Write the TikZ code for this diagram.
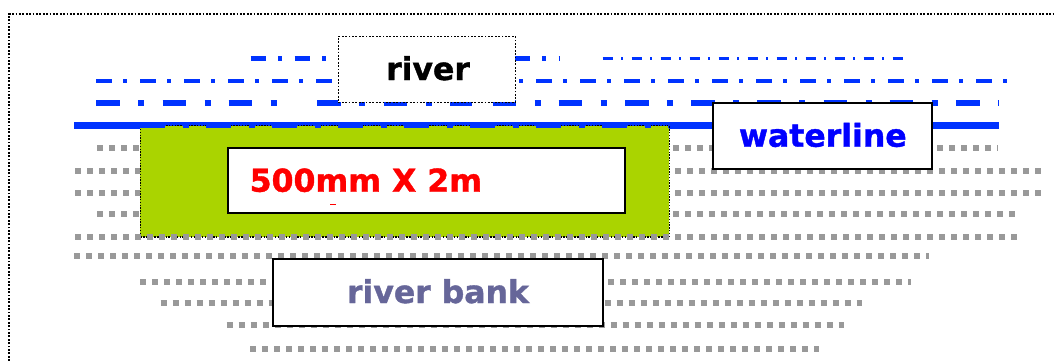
\documentclass[tikz,border=0pt]{standalone}
\usepackage{fontspec}
\setmainfont{DejaVu Sans}
\newfontfamily\heavyfont[BoldFeatures={FakeBold=1.2}]{DejaVu Sans}
\definecolor{lineblue}{RGB}{0,51,255}
\definecolor{rowgray}{RGB}{153,153,153}
\definecolor{pipegreen}{RGB}{170,212,0}
\definecolor{bankblue}{RGB}{102,102,153}
\definecolor{wblue}{RGB}{0,0,255}
\tikzset{
  framedots/.style={draw=black, line width=1.6pt, dash pattern=on 1.8pt off 1.6pt},
  grayrow/.style={draw=rowgray, line width=6pt, dash pattern=on 6pt off 6pt},
  solidbox/.style={draw=black, line width=2pt, fill=white, inner sep=0pt, rectangle},
  dotbox/.style={draw=black, line width=1.6pt, dash pattern=on 1.8pt off 1.6pt, fill=white, inner sep=0pt, rectangle},
  greenbox/.style={draw=black, line width=1.1pt, dash pattern=on 1.4pt off 1.4pt, fill=pipegreen, inner sep=0pt, rectangle},
  lbl/.style={font=\heavyfont\fontsize{31.5}{36}\selectfont\bfseries, inner sep=0pt},
}
\begin{document}
\begin{tikzpicture}[x=1pt,y=-1pt]
\useasboundingbox (0,0) rectangle (1055,360);
% outer dotted frame
\draw[framedots] (9,361) -- (9,14) -- (1056,14);
% blue dash-dot lines
\draw[lineblue, line width=4.5pt, dash pattern=on 15.5pt off 12pt on 4pt off 12.5pt] (250.7,58.3) -- (559,58.3);
\draw[lineblue, line width=2.7pt, dash pattern=on 10.3pt off 8pt on 2.2pt off 8.5pt] (602.7,58.3) -- (906.6,58.3);
\draw[lineblue, line width=4.3pt, dash pattern=on 16pt off 11pt on 4pt off 13pt] (96.3,80.7) -- (1008.5,80.7);
\draw[lineblue, line width=6.3pt, dash pattern=on 23.7pt off 18.3pt on 6pt off 18.2pt] (96.3,102.7) -- (277.2,102.7);
\draw[lineblue, line width=6.3pt, dash pattern=on 23.7pt off 18.3pt on 6pt off 18.2pt] (317.3,102.7) -- (472,102.7);
\draw[lineblue, line width=6.3pt, dash pattern=on 23.7pt off 18.3pt on 6pt off 18.2pt] (492.5,102.7) -- (998,102.7);
% solid waterline
\draw[lineblue, line width=7.5pt] (74.4,125.5) -- (999,125.5);
% gray dotted rows (bank)
\foreach \yy/\xa/\xb in {148/97/998, 170.5/75/1041, 192.5/75/1041, 213.5/97/1015,
                         256/74/929, 281.5/140/911, 302.5/160.6/862, 325/226.5/844, 348.5/250/818.5}
  {\draw[grayrow] (\xa,\yy) -- (\xb,\yy);}
% green pipe area
\node[greenbox, minimum width=529.1pt, minimum height=111.5pt] (pipe) at (404.85,181.25) {};
\draw[lineblue, line width=4.3pt, dash pattern=on 25pt off 17.7pt on 5.7pt off 17.6pt] (140.3,126.2) -- (669.4,126.2);
\draw[grayrow] (75,237) -- (1017,237);
% boxes
\node[dotbox, minimum width=177pt, minimum height=66pt] (riverbox) at (426.8,69.4) {};
\node[solidbox, minimum width=396.7pt, minimum height=65pt] (sizebox) at (426.7,180.8) {};
\node[solidbox, minimum width=219.3pt, minimum height=65.7pt] (waterbox) at (822.3,136.2) {};
\node[solidbox, minimum width=330pt, minimum height=66.7pt] (bankbox) at (437.7,292.3) {};
% labels
\node[lbl, anchor=base, text=black] (rivertext) at (428,80) {river};
\node[lbl, anchor=base west, text=red] (sizetext) at (249.5,191.7) {500mm X 2m};
\draw[red, line width=1pt] (330,204) -- (335.7,204);
\node[lbl, anchor=base, text=wblue] (watertext) at (822.8,146.7) {waterline};
\node[lbl, anchor=base, text=bankblue] (banktext) at (438,303) {river bank};
\end{tikzpicture}
\end{document}
